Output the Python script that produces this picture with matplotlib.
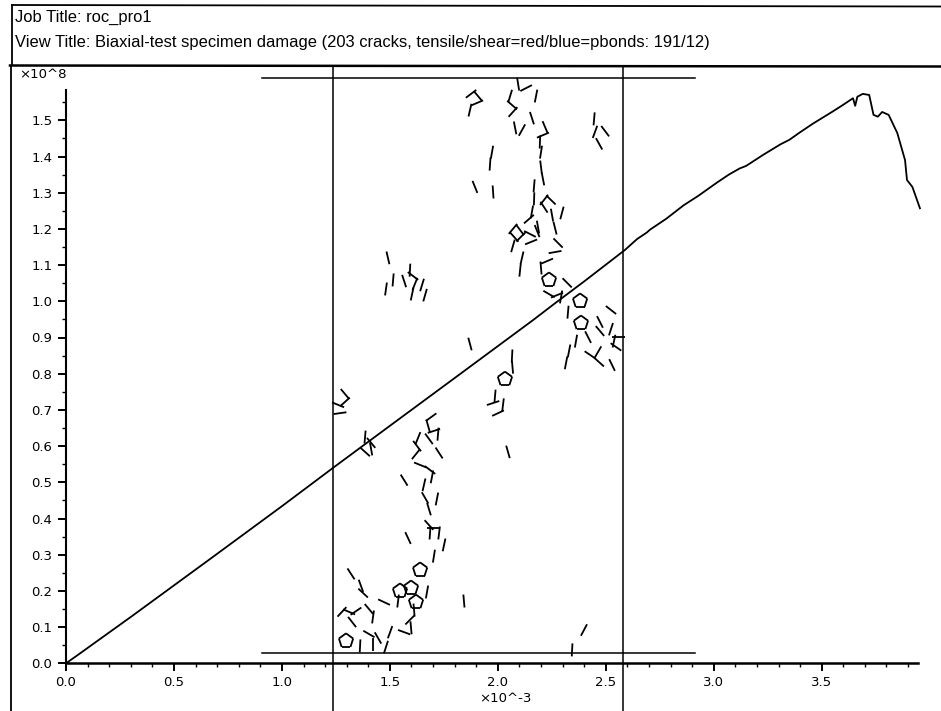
import numpy as np
import matplotlib
matplotlib.use("Agg")
import matplotlib.pyplot as plt
from matplotlib.lines import Line2D
from matplotlib.collections import LineCollection
from matplotlib.ticker import FixedLocator, FormatStrFormatter

plt.rcParams['font.family'] = ['Liberation Sans', 'DejaVu Sans']

# ---------------- data ----------------
job_title = "Job Title: roc_pro1"
view_title = ("View Title: Biaxial-test specimen damage (203 cracks, "
              "tensile/shear=red/blue=pbonds: 191/12)")

# axial strain (x10^-3) and axial stress (x10^8)
strain = [0.0, 0.05, 0.30, 0.667, 1.0, 1.237, 1.50, 1.80, 2.163, 2.257,
          2.40, 2.589, 2.645, 2.69, 2.705, 2.78, 2.86, 2.93, 3.015, 3.07, 3.12,
          3.15, 3.23, 3.31, 3.35, 3.40, 3.46, 3.55, 3.60, 3.645, 3.655, 3.665,
          3.69, 3.72, 3.74, 3.76, 3.78, 3.81, 3.85, 3.886, 3.895, 3.92, 3.955]
stress = [0.0, 0.021, 0.128, 0.288, 0.434, 0.540, 0.656, 0.788, 0.948,
          0.991, 1.055, 1.142, 1.172, 1.190, 1.198, 1.228, 1.265, 1.292, 1.328,
          1.350, 1.367, 1.374, 1.405, 1.434, 1.446, 1.467, 1.491, 1.524, 1.543,
          1.561, 1.540, 1.565, 1.573, 1.570, 1.515, 1.510, 1.523, 1.515, 1.465,
          1.390, 1.335, 1.316, 1.257]

# specimen walls (plotted in same units)
wall_left_x = 1.237
wall_right_x = 2.582
platen_x = [0.908, 2.913]
platen_top_y = 1.617
platen_bottom_y = 0.028

# crack centres (x, y in plot units) and orientation (deg)
crack_x = [1.876, 1.908, 1.904, 1.871, 2.094, 2.131, 2.177, 2.057, 2.066, 2.070,
           2.080, 2.112, 2.158, 2.219, 2.209, 2.195, 2.200, 2.200, 2.209, 2.168,
           2.168, 2.158, 2.144, 2.446, 2.450, 2.497, 2.469, 1.973, 1.964, 1.894,
           1.978, 2.246, 2.214, 2.214, 2.251, 2.265, 2.297, 2.070, 2.103, 2.075,
           2.107, 2.070, 2.154, 2.149, 2.182, 2.112, 2.103, 2.228, 2.265, 2.279,
           2.200, 2.186, 2.321, 2.237, 2.274, 2.293, 2.325, 2.418, 2.524, 2.473,
           2.473, 2.524, 2.561, 2.538, 2.547, 2.362, 2.330, 2.316, 2.427, 2.469,
           2.464, 2.529, 2.066, 2.068, 1.871, 1.987, 1.978, 2.024, 2.001, 2.047,
           1.292, 1.292, 1.260, 1.269, 1.385, 1.385, 1.413, 1.413, 1.691, 1.677,
           1.704, 1.723, 1.681, 1.630, 1.626, 1.621, 1.728, 1.640, 1.686, 1.695,
           1.566, 1.658, 1.663, 1.681, 1.718, 1.681, 1.704, 1.686, 1.728, 1.584,
           1.751, 1.704, 1.320, 1.366, 1.376, 1.473, 1.403, 1.422, 1.278, 1.311,
           1.343, 1.325, 1.362, 1.403, 1.422, 1.445, 1.482, 1.501, 1.538, 1.612,
           1.593, 1.598, 1.566, 1.672, 1.843, 2.399, 2.344, 1.491, 1.482, 1.515,
           1.566, 1.593, 1.607, 1.616, 1.603, 1.649, 1.663]
crack_y = [1.573, 1.567, 1.548, 1.528, 1.600, 1.589, 1.567, 1.567, 1.542, 1.523,
           1.479, 1.473, 1.506, 1.481, 1.459, 1.440, 1.412, 1.371, 1.338, 1.319,
           1.283, 1.247, 1.227, 1.504, 1.468, 1.470, 1.435, 1.412, 1.379, 1.316,
           1.302, 1.280, 1.280, 1.260, 1.238, 1.202, 1.244, 1.200, 1.197, 1.178,
           1.178, 1.153, 1.164, 1.186, 1.194, 1.120, 1.086, 1.111, 1.136, 1.161,
           1.092, 1.205, 1.051, 1.020, 1.017, 1.012, 0.970, 0.901, 0.976, 0.943,
           0.918, 0.923, 0.901, 0.890, 0.874, 0.890, 0.863, 0.830, 0.852, 0.832,
           0.860, 0.824, 0.849, 0.818, 0.882, 0.738, 0.719, 0.714, 0.691, 0.584,
           0.744, 0.722, 0.714, 0.691, 0.625, 0.584, 0.609, 0.592, 0.680, 0.656,
           0.642, 0.633, 0.620, 0.622, 0.600, 0.578, 0.581, 0.548, 0.534, 0.515,
           0.506, 0.493, 0.457, 0.426, 0.454, 0.382, 0.374, 0.360, 0.360, 0.346,
           0.327, 0.296, 0.247, 0.214, 0.194, 0.169, 0.150, 0.128, 0.142, 0.142,
           0.144, 0.114, 0.048, 0.081, 0.051, 0.070, 0.045, 0.086, 0.172, 0.147,
           0.120, 0.098, 0.086, 0.197, 0.172, 0.092, 0.037, 1.120, 1.034, 1.059,
           1.056, 1.086, 1.070, 1.048, 1.020, 1.045, 1.017]
crack_ang = [37, 130, 23, 77, 99, 27, 79, 73, 139, 48,
             101, 61, 108, 113, 23, 88, 81, 97, 101, 85,
             88, 80, 41, 85, 70, 127, 119, 80, 86, 112,
             94, 136, 52, 123, 100, 104, 75, 50, 127, 132,
             45, 74, 22, 153, 112, 77, 84, 23, 10, 135,
             95, 100, 135, 150, 22, 80, 85, 117, 142, 117,
             130, 72, 0, 78, 145, 80, 79, 79, 146, 138,
             60, 116, 87, 95, 105, 85, 18, 83, 25, 106,
             130, 42, 158, 8, 85, 138, 130, 100, 36, 106,
             18, 85, 126, 68, 127, 51, 123, 158, 143, 79,
             122, 77, 120, 107, 79, 132, 0, 86, 83, 115,
             78, 81, 123, 110, 137, 155, 130, 82, 47, 157,
             34, 128, 87, 150, 90, 120, 72, 70, 83, 95,
             45, 95, 160, 80, 95, 62, 87, 103, 82, 85,
             108, 87, 143, 68, 78, 73, 74]

# balls fully ringed by cracks (centres)
ring_x = [2.237, 2.381, 2.385, 1.640, 1.547, 1.598, 1.621, 2.033, 1.297]
ring_y = [1.059, 1.001, 0.940, 0.258, 0.200, 0.208, 0.169, 0.785, 0.062]

x_ticks = [0.0, 0.5, 1.0, 1.5, 2.0, 2.5, 3.0, 3.5]
y_ticks = [0.0, 0.1, 0.2, 0.3, 0.4, 0.5, 0.6, 0.7, 0.8, 0.9, 1.0, 1.1, 1.2,
           1.3, 1.4, 1.5]

# ---------------- figure ----------------
W, H = 941, 711
fig = plt.figure(figsize=(W / 100, H / 100), dpi=100)
fig.patch.set_facecolor('white')


def fx(px):
    return px / W


def fy(py):
    return 1 - py / H


# header frame and plot frame
frame_kw = dict(color='black', lw=1.3, transform=fig.transFigure)
fig.add_artist(Line2D([fx(12), 1.0], [fy(5), fy(6.5)], **frame_kw))
fig.add_artist(Line2D([fx(12), fx(12)], [fy(5), fy(64)], **frame_kw))
fig.add_artist(Line2D([fx(10), 1.0], [fy(65.5), fy(66.5)],
                      color='black', lw=1.8, transform=fig.transFigure))
fig.add_artist(Line2D([fx(10.5), fx(10.5)], [fy(65.5), 0.0], **frame_kw))

fig.text(fx(15), fy(17), job_title, fontsize=11.9, va='center', ha='left')
fig.text(fx(15), fy(43), view_title, fontsize=11.9, va='center', ha='left')

# axes
x0, x1 = 66, 918
y0 = 663.3
xmax = 3.946
ymax = 1.64
px_per_y = 362.0
ax = fig.add_axes([fx(x0), (H - y0) / H, (x1 - x0) / W, ymax * px_per_y / H])
ax.set_xlim(0, xmax)
ax.set_ylim(0, ymax)
ax.patch.set_alpha(0)

for s in ['top', 'right']:
    ax.spines[s].set_visible(False)
ax.spines['left'].set_bounds(0, 1.585)
ax.spines['left'].set_linewidth(1.5)
ax.spines['bottom'].set_linewidth(1.8)

ax.xaxis.set_major_locator(FixedLocator(x_ticks))
ax.xaxis.set_minor_locator(FixedLocator([v / 10 for v in range(1, 40) if v % 5]))
ax.yaxis.set_major_locator(FixedLocator(y_ticks))
ax.yaxis.set_minor_locator(FixedLocator([0.05 + 0.1 * k for k in range(16)]))
ax.xaxis.set_major_formatter(FormatStrFormatter('%.1f'))
ax.yaxis.set_major_formatter(FormatStrFormatter('%.1f'))
ax.tick_params(axis='both', which='major', direction='out', length=5.8,
               width=1.4, labelsize=9.5, colors='black')
ax.tick_params(axis='both', which='minor', direction='out', length=3,
               width=1.0)
ax.tick_params(axis='x', which='major', pad=3)
ax.tick_params(axis='y', which='major', pad=4)
for lab in ax.get_xticklabels() + ax.get_yticklabels():
    lab.set_family('DejaVu Sans')

# specimen walls
wall_ymin = (y0 - H) / (ymax * px_per_y)
wall_ymax = (y0 - 66) / (ymax * px_per_y)
for xw in (wall_left_x, wall_right_x):
    ax.axvline(xw, ymin=wall_ymin, ymax=wall_ymax, color='black', lw=1.1,
               clip_on=False)
for yp in (platen_top_y, platen_bottom_y):
    ax.plot(platen_x, [yp, yp], color='black', lw=1.1, clip_on=False)

# stress-strain curve
ax.plot(strain, stress, color='black', lw=1.3, clip_on=False)

# cracks
L = 13.0  # px
segs = []
to_data = ax.transData.inverted()
for cx, cy, a in zip(crack_x, crack_y, crack_ang):
    p = ax.transData.transform((cx, cy))
    d = np.array([np.cos(np.radians(a)), np.sin(np.radians(a))]) * L / 2
    segs.append(to_data.transform(np.vstack([p - d, p + d])))

R = 7.5
for cx, cy in zip(ring_x, ring_y):
    p = ax.transData.transform((cx, cy))
    th = np.radians(90 + 72 * np.arange(6))
    verts = p + R * np.column_stack([np.cos(th), np.sin(th)])
    v = to_data.transform(verts)
    for k in range(5):
        segs.append(v[k:k + 2])

ax.add_collection(LineCollection(segs, colors='black', linewidths=1.3,
                                 clip_on=False))

# exponent labels
fig.text(fx(19), fy(75), "×10^8", fontsize=9.5, va='center', ha='left',
         family='DejaVu Sans')
fig.text(fx(479), fy(698), "×10^-3", fontsize=9.5, va='center', ha='left',
         family='DejaVu Sans')

fig.savefig("out.png", dpi=100, facecolor='white')
